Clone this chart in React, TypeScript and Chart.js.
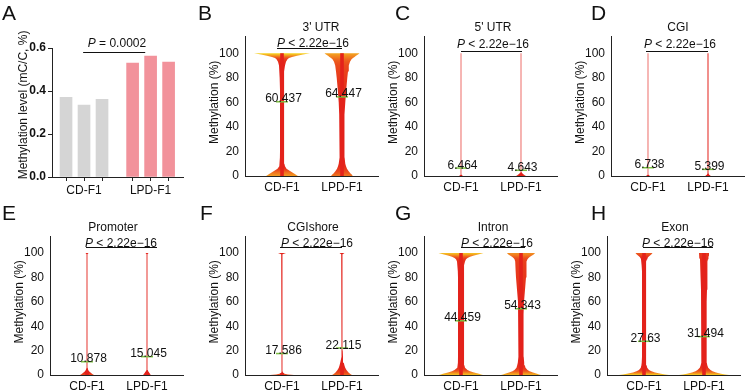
import React, { useEffect, useRef } from "react";
import { Chart, registerables } from "chart.js";

Chart.register(...registerables);

const FONT = '"Liberation Sans", Arial, Helvetica, sans-serif';
Chart.defaults.font.family = FONT;
Chart.defaults.color = "#111";

// ---------------- Panel A data ----------------
const barGroups = ["CD-F1", "LPD-F1"];
const barGroupLabelPositions = [2, 5.7];
const cdBarPositions = [1, 2, 3];
const lpdBarPositions = [4.7, 5.7, 6.7];
const cdMethylation = [0.37, 0.335, 0.361];
const lpdMethylation = [0.53, 0.563, 0.534];
const barYTicks = [0, 0.2, 0.4, 0.6];
const barPText = "= 0.0002";

// ---------------- Violin data ----------------
const violinGroups = ["CD-F1", "LPD-F1"];
const violinCenters = [37, 97];
const violinYTicks = [0, 20, 40, 60, 80, 100];
const violinPText = "< 2.22e\u221216";
const violinLevels = [0, 0.5, 1, 2, 3, 4, 6, 8, 10, 15, 20, 30, 40, 50, 60, 70, 80, 85, 90, 93, 95, 96, 97, 98, 99, 100];

const regionTitles = ["3' UTR", "5' UTR", "CGI", "Promoter", "CGIshore", "Intron", "Exon"];
const cdMeans = [60.437, 6.464, 6.738, 10.878, 17.586, 44.459, 27.63];
const lpdMeans = [64.447, 4.643, 5.399, 15.045, 22.115, 54.343, 31.494];

// half widths of each violin at violinLevels
const utr3Cd = [16, 15, 14, 12, 10, 8, 4.5, 3, 2.4, 2.1, 2, 2, 2, 2, 2, 2, 2.2, 2.5, 3, 4, 5.5, 7, 10, 15, 21, 28];
const utr3Lpd = [11, 10.5, 10, 8.5, 7.5, 6.5, 5, 4, 3.3, 2.6, 2.3, 2.3, 2.5, 2.8, 3.3, 4.2, 5.3, 6, 6.8, 8, 9.5, 11, 12.5, 14, 16, 17.5];
const utr5Cd = [2, 1.2, 0.8, 0.5, 0.4, 0.35, 0.32, 0.32, 0.32, 0.32, 0.32, 0.32, 0.32, 0.32, 0.32, 0.32, 0.32, 0.32, 0.32, 0.32, 0.32, 0.32, 0.32, 0.32, 0.32, 0.32];
const utr5Lpd = [5, 4, 3, 1.5, 0.8, 0.5, 0.4, 0.35, 0.32, 0.32, 0.32, 0.32, 0.32, 0.32, 0.32, 0.32, 0.32, 0.32, 0.32, 0.32, 0.32, 0.32, 0.32, 0.32, 0.32, 0.32];
const cgiCd = [2, 1.2, 0.7, 0.45, 0.35, 0.32, 0.32, 0.32, 0.32, 0.32, 0.32, 0.32, 0.32, 0.32, 0.32, 0.32, 0.32, 0.32, 0.32, 0.32, 0.32, 0.32, 0.32, 0.32, 0.32, 0.32];
const cgiLpd = [3, 2, 1.2, 0.7, 0.55, 0.5, 0.5, 0.5, 0.5, 0.5, 0.5, 0.5, 0.5, 0.5, 0.5, 0.5, 0.5, 0.5, 0.5, 0.5, 0.5, 0.5, 0.5, 0.5, 0.5, 0.5];
const promoterCd = [7, 6, 5, 3.5, 2, 1.2, 0.7, 0.5, 0.45, 0.45, 0.45, 0.45, 0.45, 0.45, 0.45, 0.45, 0.45, 0.45, 0.45, 0.45, 0.45, 0.45, 0.45, 0.45, 0.45, 1.5];
const promoterLpd = [4, 3.5, 3, 2, 1.2, 0.8, 0.6, 0.5, 0.45, 0.45, 0.45, 0.45, 0.45, 0.45, 0.45, 0.45, 0.45, 0.45, 0.45, 0.45, 0.45, 0.45, 0.45, 0.45, 0.45, 1.5];
const shoreCd = [12, 6, 2.5, 1, 0.6, 0.45, 0.45, 0.45, 0.45, 0.45, 0.45, 0.45, 0.45, 0.45, 0.45, 0.45, 0.45, 0.45, 0.45, 0.45, 0.45, 0.45, 0.45, 0.45, 0.8, 4];
const shoreLpd = [10, 9, 8, 6.5, 5.5, 4.5, 3.2, 2.4, 1.8, 1, 0.7, 0.45, 0.45, 0.45, 0.45, 0.45, 0.45, 0.45, 0.45, 0.45, 0.45, 0.45, 0.45, 0.45, 0.8, 2.5];
const intronCd = [22, 20, 18, 13, 9, 6.5, 4, 3.4, 3.1, 3, 3, 3, 3, 3, 3, 3, 3, 3.1, 3.3, 4, 5, 6.5, 9, 13, 18, 22.5];
const intronLpd = [20, 18, 16, 12, 8.5, 6.5, 4.5, 3.8, 3.2, 2.7, 2.5, 2.5, 2.5, 2.7, 3, 4, 5, 5.2, 5.5, 5.8, 6.5, 7.5, 9, 11, 13, 14];
const exonCd = [25, 21, 17, 11, 7.5, 5, 3.2, 2.6, 2.3, 2, 2, 2, 2, 2, 2, 2, 2, 2, 2.2, 2.6, 3, 3.5, 4.5, 6, 7.5, 8.5];
const exonLpd = [25, 21, 17, 12, 8.5, 6.5, 4.2, 3.3, 2.8, 2.5, 2.5, 2.6, 2.7, 2.8, 2.9, 3, 3.2, 3.3, 3.5, 3.7, 4, 4.3, 4.6, 5, 5, 5];

const cdWidths = [utr3Cd, utr5Cd, cgiCd, promoterCd, shoreCd, intronCd, exonCd];
const lpdWidths = [utr3Lpd, utr5Lpd, cgiLpd, promoterLpd, shoreLpd, intronLpd, exonLpd];

// ---------------- Layout / style (positions only) ----------------
const rows = [
  { top: 0, height: 200, padTop: 36, padBottom: 4, letterY: 20 },
  { top: 195, height: 200, padTop: 41, padBottom: 0, letterY: 220 },
];
const violinLayout = [
  { letter: "B", row: 0, axisX: 245, letterX: 198, titleX: 76, pX: 68, line: [32, 97], lineY: 104.2, pGap: 1.5 },
  { letter: "C", row: 0, axisX: 424, letterX: 395, titleX: 69, pX: 69, line: [37, 98], lineY: 101.8, pGap: 3.5 },
  { letter: "D", row: 0, axisX: 611, letterX: 591, titleX: 67, pX: 69, line: [35, 97], lineY: 101.8, pGap: 3.5 },
  { letter: "E", row: 1, axisX: 50, letterX: 2, titleX: 63, pX: 71, line: [36, 107], lineY: 104.8, pGap: 1 },
  { letter: "F", row: 1, axisX: 245, letterX: 200, titleX: 68, pX: 72, line: [35, 97], lineY: 104.8, pGap: 1 },
  { letter: "G", row: 1, axisX: 424, letterX: 395, titleX: 69, pX: 73, line: [37, 101], lineY: 104.8, pGap: 1 },
  { letter: "H", row: 1, axisX: 607, letterX: 591, titleX: 68, pX: 71, line: [36, 106], lineY: 104.8, pGap: 1 },
];
const Y_AXIS_W = 50;
const X_SPAN = 133;
const CANVAS_W = 190;
// colour ramp: violin half-width (px) -> colour
const rampWidths = [0, 3, 6, 10, 15, 20, 26];
const rampColors = [
  [227, 34, 27],
  [227, 34, 27],
  [233, 66, 28],
  [239, 109, 30],
  [242, 149, 32],
  [244, 181, 31],
  [246, 214, 31],
];
const CORE_W = 1.8;

function rampColor(w: number) {
  let k = 0;
  while (k < rampWidths.length - 2 && w > rampWidths[k + 1]) k++;
  const w0 = rampWidths[k];
  const w1 = rampWidths[k + 1];
  const t = Math.max(0, Math.min(1, (w - w0) / (w1 - w0)));
  const c0 = rampColors[k];
  const c1 = rampColors[k + 1];
  const c = c0.map((v, j) => Math.round(v + (c1[j] - v) * t));
  return `rgb(${c[0]},${c[1]},${c[2]})`;
}

function drawPLabel(ctx: CanvasRenderingContext2D, cx: number, baseline: number, rest: string) {
  ctx.font = `italic 12px ${FONT}`;
  const wP = ctx.measureText("P").width;
  ctx.font = `12px ${FONT}`;
  const r = " " + rest;
  const wR = ctx.measureText(r).width;
  const x0 = cx - (wP + wR) / 2;
  ctx.textAlign = "left";
  ctx.textBaseline = "alphabetic";
  ctx.font = `italic 12px ${FONT}`;
  ctx.fillText("P", x0, baseline);
  ctx.font = `12px ${FONT}`;
  ctx.fillText(r, x0 + wP, baseline);
}

function violinFill(widths: number[]) {
  return (context: any) => {
    const chart = context.chart;
    const ys = chart.scales && chart.scales.y;
    if (!chart.chartArea || !ys) return "#e3221b";
    const y0 = ys.getPixelForValue(0);
    const y1 = ys.getPixelForValue(100);
    const g = chart.ctx.createLinearGradient(0, y0, 0, y1);
    violinLevels.forEach((l, i) => g.addColorStop(l / 100, rampColor(widths[i])));
    return g;
  };
}

function violinPoints(center: number, widths: number[]) {
  const right = violinLevels.map((y, i) => ({ x: center + widths[i], y }));
  const left = violinLevels.map((y, i) => ({ x: center - widths[i], y })).reverse();
  return [...right, ...left];
}

function buildViolin(idx: number): any {
  const lay = violinLayout[idx];
  const row = rows[lay.row];
  const left = lay.axisX - Y_AXIS_W;
  const means = [cdMeans[idx], lpdMeans[idx]];
  const widthSets = [cdWidths[idx], lpdWidths[idx]];
  const meanSets = means.map((m, i) => ({
    data: [
      { x: violinCenters[i] - 6, y: m },
      { x: violinCenters[i] + 6, y: m },
    ],
    borderColor: "#7dc142",
    borderWidth: 1.5,
    pointRadius: 0,
    pointHoverRadius: 0,
    fill: false,
  }));
  const coreSets = widthSets.map((w, i) => ({
    data: violinPoints(violinCenters[i], w.map((v) => (v > CORE_W ? CORE_W : 0))),
    backgroundColor: "#e3221b",
    borderColor: "rgba(0,0,0,0)",
    borderWidth: 0,
    pointRadius: 0,
    pointHoverRadius: 0,
    fill: "shape",
    tension: 0,
  }));
  const violinSets = widthSets.map((w, i) => ({
    data: violinPoints(violinCenters[i], w),
    backgroundColor: violinFill(w),
    borderColor: "rgba(0,0,0,0)",
    borderWidth: 0,
    pointRadius: 0,
    pointHoverRadius: 0,
    fill: "shape",
    tension: 0,
  }));
  const decor = {
    id: "violinDecor",
    afterDraw(chart: any) {
      const { ctx, chartArea } = chart;
      const xs = chart.scales.x;
      const ys = chart.scales.y;
      ctx.save();
      ctx.fillStyle = "#111";
      ctx.textAlign = "left";
      ctx.textBaseline = "alphabetic";
      ctx.font = `21px ${FONT}`;
      ctx.fillText(lay.letter, lay.letterX - left, row.letterY - row.top);
      ctx.font = `12px ${FONT}`;
      ctx.textAlign = "center";
      ctx.fillText(regionTitles[idx], xs.getPixelForValue(lay.titleX), chartArea.top - 5.5);
      const ly = Math.round(ys.getPixelForValue(lay.lineY)) + 0.5;
      drawPLabel(ctx, xs.getPixelForValue(lay.pX), ly - lay.pGap, violinPText);
      ctx.strokeStyle = "#111";
      ctx.lineWidth = 1;
      ctx.beginPath();
      ctx.moveTo(xs.getPixelForValue(lay.line[0]), ly);
      ctx.lineTo(xs.getPixelForValue(lay.line[1]), ly);
      ctx.stroke();
      ctx.save();
      ctx.translate(chartArea.left - 30, ys.getPixelForValue(60));
      ctx.rotate(-Math.PI / 2);
      ctx.font = `12px ${FONT}`;
      ctx.textAlign = "center";
      ctx.textBaseline = "middle";
      ctx.fillText("Methylation (%)", 0, 0);
      ctx.restore();
      ctx.font = `12px ${FONT}`;
      ctx.textAlign = "center";
      ctx.textBaseline = "alphabetic";
      means.forEach((m, i) => {
        ctx.fillText(String(m), xs.getPixelForValue(violinCenters[i]) + 1.5, ys.getPixelForValue(m) + 0.5);
      });
      ctx.restore();
    },
  };
  return {
    pos: { left, top: row.top, width: CANVAS_W, height: row.height },
    config: {
      type: "line",
      data: { datasets: [...meanSets, ...coreSets, ...violinSets] },
      options: {
        animation: false,
        responsive: false,
        maintainAspectRatio: false,
        events: [],
        layout: { padding: { top: row.padTop, bottom: row.padBottom, left: 0, right: CANVAS_W - Y_AXIS_W - X_SPAN } },
        plugins: { legend: { display: false }, tooltip: { enabled: false } },
        scales: {
          x: {
            type: "linear",
            min: 0,
            max: X_SPAN,
            afterBuildTicks: (s: any) => {
              s.ticks = violinCenters.map((v) => ({ value: v }));
            },
            afterFit: (s: any) => {
              s.height = 20;
            },
            ticks: {
              autoSkip: false,
              maxRotation: 0,
              padding: 4,
              color: "#111",
              font: { size: 12 },
              callback: (v: any) => {
                const k = violinCenters.indexOf(v);
                return k >= 0 ? violinGroups[k] : "";
              },
            },
            grid: { display: false, drawTicks: false },
            border: { display: true, color: "#222", width: 1 },
          },
          y: {
            type: "linear",
            min: 0,
            max: 114,
            afterBuildTicks: (s: any) => {
              s.ticks = violinYTicks.map((v) => ({ value: v }));
            },
            afterFit: (s: any) => {
              s.width = Y_AXIS_W;
            },
            ticks: { padding: 6, color: "#111", font: { size: 12 } },
            grid: { display: false, drawTicks: false },
            border: { display: true, color: "#222", width: 1 },
          },
        },
      },
      plugins: [decor],
    },
  };
}

function buildBars(): any {
  const decor = {
    id: "barDecor",
    afterDraw(chart: any) {
      const { ctx } = chart;
      const xs = chart.scales.x;
      const ys = chart.scales.y;
      ctx.save();
      ctx.fillStyle = "#111";
      ctx.textAlign = "left";
      ctx.textBaseline = "alphabetic";
      ctx.font = `21px ${FONT}`;
      ctx.fillText("A", 2, 20);
      const ly = Math.round(ys.getPixelForValue(0.581)) + 0.5;
      drawPLabel(ctx, xs.getPixelForValue(3.83), ys.getPixelForValue(0.606), barPText);
      ctx.strokeStyle = "#111";
      ctx.lineWidth = 1;
      ctx.beginPath();
      ctx.moveTo(xs.getPixelForValue(1.95), ly);
      ctx.lineTo(xs.getPixelForValue(5.4), ly);
      ctx.stroke();
      ctx.save();
      ctx.translate(24, ys.getPixelForValue(0.335));
      ctx.rotate(-Math.PI / 2);
      ctx.font = `12px ${FONT}`;
      ctx.textAlign = "center";
      ctx.textBaseline = "middle";
      ctx.fillText("Methylation level (mC/C, %)", 0, 0);
      ctx.restore();
      ctx.restore();
    },
  };
  return {
    pos: { left: 0, top: 0, width: 192, height: 200 },
    config: {
      type: "bar",
      data: {
        datasets: [
          {
            data: cdBarPositions.map((x, i) => ({ x, y: cdMethylation[i] })),
            backgroundColor: "#d5d5d5",
            barThickness: 12,
            grouped: false,
          },
          {
            data: lpdBarPositions.map((x, i) => ({ x, y: lpdMethylation[i] })),
            backgroundColor: "#f2929b",
            barThickness: 12,
            grouped: false,
          },
        ],
      },
      options: {
        animation: false,
        responsive: false,
        maintainAspectRatio: false,
        events: [],
        layout: { padding: { top: 48, bottom: 3, left: 0, right: 9 } },
        plugins: { legend: { display: false }, tooltip: { enabled: false } },
        scales: {
          x: {
            type: "linear",
            min: 0.22,
            max: 7.5,
            offset: false,
            afterBuildTicks: (s: any) => {
              s.ticks = [...cdBarPositions, ...lpdBarPositions].map((v) => ({ value: v }));
            },
            afterFit: (s: any) => {
              s.height = 20;
            },
            ticks: {
              autoSkip: false,
              maxRotation: 0,
              padding: 2,
              color: "#111",
              font: { size: 12 },
              callback: (v: any) => {
                const k = barGroupLabelPositions.indexOf(v);
                return k >= 0 ? barGroups[k] : "";
              },
            },
            grid: { display: true, drawOnChartArea: false, drawTicks: true, tickLength: 4, color: "#222", offset: false },
            border: { display: true, color: "#222", width: 1 },
          },
          y: {
            type: "linear",
            min: 0,
            max: 0.6,
            afterBuildTicks: (s: any) => {
              s.ticks = barYTicks.map((v) => ({ value: v }));
            },
            afterFit: (s: any) => {
              s.width = 52;
            },
            ticks: {
              padding: 2,
              color: "#111",
              font: { size: 12, weight: "bold" },
              callback: (v: any) => Number(v).toFixed(1),
            },
            grid: { display: true, drawOnChartArea: false, drawTicks: true, tickLength: 4, color: "#222" },
            border: { display: true, color: "#222", width: 1 },
          },
        },
      },
      plugins: [decor],
    },
  };
}

function ChartBox({ spec }: { spec: any }) {
  const ref = useRef<HTMLCanvasElement>(null);
  useEffect(() => {
    if (!ref.current) return;
    const chart = new Chart(ref.current, spec.config);
    return () => chart.destroy();
  }, [spec]);
  const { left, top, width, height } = spec.pos;
  return (
    <canvas
      ref={ref}
      width={width}
      height={height}
      style={{ position: "absolute", left, top, width, height }}
    />
  );
}

const specs = [buildBars(), ...violinLayout.map((_, i) => buildViolin(i))];

export default function App() {
  return (
    <div
      style={{
        position: "fixed",
        left: 0,
        top: 0,
        width: 746,
        height: 392,
        background: "#fff",
        overflow: "hidden",
      }}
    >
      {specs.map((s, i) => (
        <ChartBox key={i} spec={s} />
      ))}
    </div>
  );
}
